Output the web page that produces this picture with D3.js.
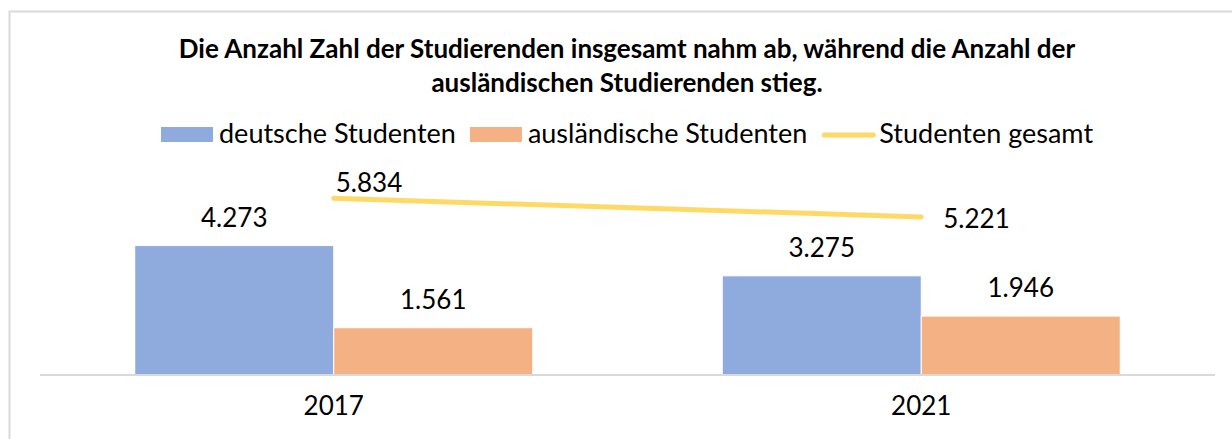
<!DOCTYPE html>
<meta charset="utf-8">
<style>
body { margin: 0; background: #fff; }
svg { font-family: Lato, "Open Sans", sans-serif; }
.axis path, .axis line { stroke: #d9d9d9; stroke-width: 2; }
.axis text { font-size: 26px; fill: #000; font-family: Lato, sans-serif; }
.label { font-size: 26px; fill: #000; }
.legend text { font-size: 27px; fill: #000; }
.title { font-size: 26px; font-weight: bold; fill: #000; text-anchor: middle; }
</style>
<body>
<script src="https://cdn.jsdelivr.net/npm/d3@7"></script>
<script>
// data
var years = ["2017", "2021"];
var deutsche = [4273, 3275];
var auslaendische = [1561, 1946];
var gesamt = [5834, 5221];
var seriesNames = ["deutsche Studenten", "ausländische Studenten", "Studenten gesamt"];
var colors = ["#8faadc", "#f4b183", "#ffd966"];
var titleLines = ["Die Anzahl Zahl der Studierenden insgesamt nahm ab, während die Anzahl der",
                  "ausländischen Studierenden stieg."];

var W = 1232, H = 439;
var svg = d3.select("body").append("svg")
    .attr("width", W)
    .attr("height", H);

// chart border
svg.append("rect")
    .attr("x", 9.5).attr("y", 11.5)
    .attr("width", 1300).attr("height", 500)
    .attr("fill", "#fff")
    .attr("stroke", "#d9d9d9")
    .attr("stroke-width", 2);

// scales
var x0 = d3.scaleBand().domain(years).range([40, 1215]);
var x1 = d3.scaleBand().domain([0, 1]).range([0, 398]);
var y = d3.scaleLinear().domain([0, 7000]).range([375, 163]);
var formatNum = function(v) { return d3.format(",")(v).replace(",", "."); };

// title
svg.selectAll(".title")
    .data(titleLines)
  .enter().append("text")
    .attr("class", "title")
    .attr("x", 627)
    .attr("y", function(d, i) { return 58 + i * 34; })
    .text(function(d) { return d; });

// bars
var barData = [];
years.forEach(function(yr, i) {
  barData.push({year: yr, s: 0, v: deutsche[i]});
  barData.push({year: yr, s: 1, v: auslaendische[i]});
});
var groupOff = function(d) { return x0(d.year) + (x0.bandwidth() - 398) / 2; };

svg.selectAll(".bar")
    .data(barData)
  .enter().append("rect")
    .attr("class", "bar")
    .attr("x", function(d) { return groupOff(d) + x1(d.s); })
    .attr("width", x1.bandwidth())
    .attr("y", function(d) { return y(d.v); })
    .attr("height", function(d) { return y(0) - y(d.v); })
    .attr("fill", function(d) { return colors[d.s]; })
    .attr("stroke", "#fff")
    .attr("stroke-width", 1);

svg.selectAll(".barlabel")
    .data(barData)
  .enter().append("text")
    .attr("class", "label")
    .attr("text-anchor", "middle")
    .attr("x", function(d) { return groupOff(d) + x1(d.s) + x1.bandwidth() / 2; })
    .attr("y", function(d) { return y(d.v) - 19; })
    .text(function(d) { return formatNum(d.v); });

// x axis
var xAxis = svg.append("g")
    .attr("class", "axis")
    .attr("transform", "translate(0," + y(0) + ")")
    .call(d3.axisBottom(x0).tickSize(0).tickPadding(22));
xAxis.select(".domain").attr("d", "M40,0H1215");

// line
var line = d3.line()
    .x(function(d, i) { return x0(years[i]) + x0.bandwidth() / 2; })
    .y(function(d) { return y(d); });
svg.append("path")
    .datum(gesamt)
    .attr("d", line)
    .attr("fill", "none")
    .attr("stroke", colors[2])
    .attr("stroke-width", 5)
    .attr("stroke-linecap", "round");

svg.selectAll(".linelabel")
    .data(gesamt)
  .enter().append("text")
    .attr("class", "label")
    .attr("x", function(d, i) { return x0(years[i]) + x0.bandwidth() / 2 + (i === 0 ? 2 : 22); })
    .attr("y", function(d, i) { return y(d) + (i === 0 ? -6 : 11); })
    .text(function(d) { return formatNum(d); });

// legend
var legend = svg.append("g").attr("class", "legend");
var lx = 161;
seriesNames.forEach(function(name, i) {
  if (i < 2) {
    legend.append("rect")
        .attr("x", lx).attr("y", 127)
        .attr("width", 52).attr("height", 15)
        .attr("fill", colors[i]);
  } else {
    legend.append("line")
        .attr("x1", lx + 3).attr("x2", lx + 52)
        .attr("y1", 135).attr("y2", 135)
        .attr("stroke", colors[i])
        .attr("stroke-width", 5)
        .attr("stroke-linecap", "round");
  }
  var t = legend.append("text")
      .attr("x", lx + 58)
      .attr("y", 143)
      .text(name);
  lx = lx + 58 + t.node().getComputedTextLength() + 14;
});
</script>
</body>
